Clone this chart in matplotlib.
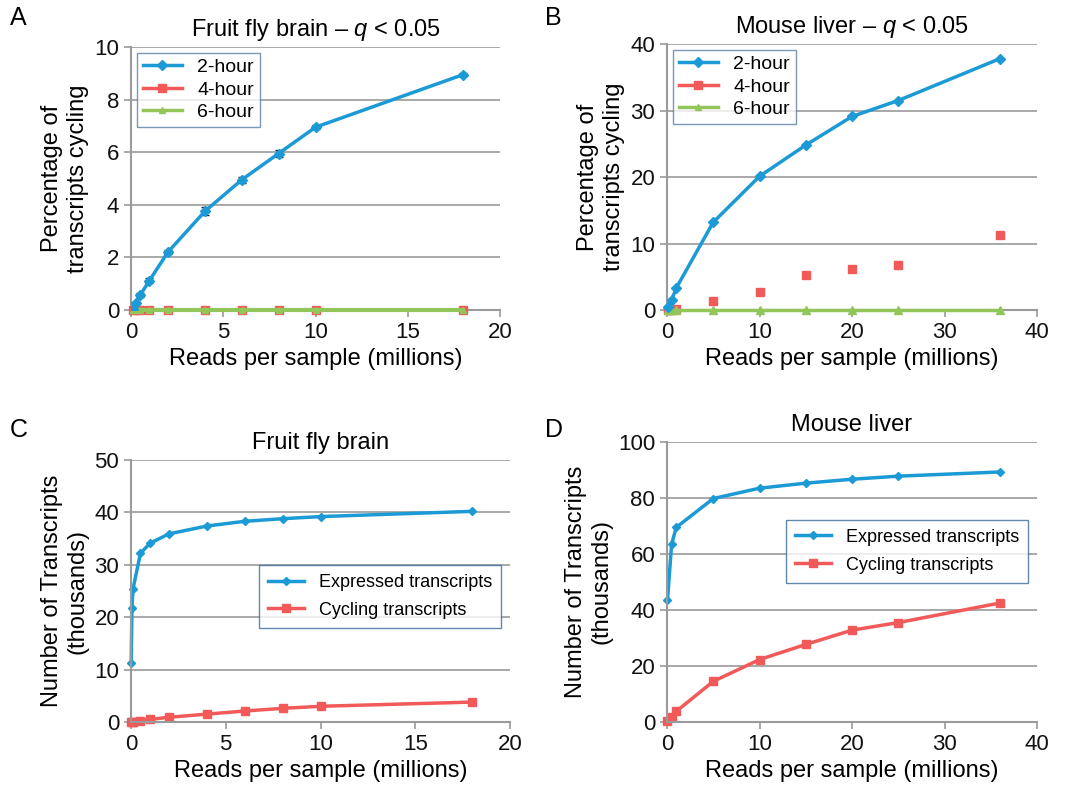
import matplotlib.pyplot as plt
from matplotlib.lines import Line2D

plt.rcParams['font.family'] = ['Liberation Sans', 'DejaVu Sans']
plt.rcParams['mathtext.fontset'] = 'custom'
plt.rcParams['mathtext.rm'] = 'Liberation Sans'
plt.rcParams['mathtext.it'] = 'Liberation Sans:italic'

BLUE = '#1b9ad6'
RED = '#f25a5a'
GREEN = '#93c65a'
GRID = '#9a9a9a'

# A: fruit fly brain, q < 0.05
fly_reads_a = [0.1, 0.25, 0.5, 1, 2, 4, 6, 8, 10, 18]
fly_2h = [0.05, 0.25, 0.57, 1.12, 2.2, 3.75, 4.95, 5.95, 6.95, 8.95]
fly_2h_err = [0.02, 0.04, 0.06, 0.1, 0.08, 0.15, 0.12, 0.15, 0.08, 0.05]
fly_4h = [0.0, 0.0, 0.0, 0.01, 0.01, 0.01, 0.01, 0.01, 0.01, 0.01]
fly_6h = [0.0, 0.0, 0.0, 0.0, 0.0, 0.0, 0.0, 0.0, 0.0, 0.0]

# B: mouse liver, q < 0.05
liver_reads_b = [0.1, 0.5, 1, 5, 10, 15, 20, 25, 36]
liver_2h = [0.4, 1.5, 3.3, 13.2, 20.1, 24.8, 29.1, 31.5, 37.8]
liver_4h = [0.0, 0.05, 0.1, 1.3, 2.7, 5.3, 6.2, 6.7, 11.3]
liver_6h = [0.0, 0.0, 0.0, 0.0, 0.0, 0.0, 0.0, 0.0, 0.0]

# C: fruit fly brain transcript counts (thousands)
fly_reads_c = [0.01, 0.05, 0.1, 0.5, 1, 2, 4, 6, 8, 10, 18]
fly_expressed = [11.2, 21.7, 25.3, 32.2, 34.1, 35.9, 37.4, 38.3, 38.8, 39.2, 40.2]
fly_cycling = [0.01, 0.03, 0.05, 0.25, 0.5, 0.9, 1.5, 2.1, 2.6, 3.0, 3.8]

# D: mouse liver transcript counts (thousands)
liver_reads_d = [0.05, 0.5, 1, 5, 10, 15, 20, 25, 36]
liver_expressed = [43.5, 63.5, 69.5, 79.8, 83.5, 85.3, 86.7, 87.8, 89.3]
liver_cycling = [0.3, 1.8, 3.8, 14.5, 22.3, 27.7, 32.8, 35.5, 42.5]


def style_axes(ax, xmax, ymax, ystep, xstep):
    ax.set_xlim(0, xmax)
    ax.set_ylim(0, ymax)
    ax.set_xticks(range(0, xmax + 1, xstep))
    ax.set_yticks(range(0, ymax + 1, ystep))
    ax.yaxis.grid(True, color=GRID, linewidth=1.2)
    ax.set_axisbelow(True)
    for s in ['top', 'right']:
        ax.spines[s].set_visible(False)
    for s in ['left', 'bottom']:
        ax.spines[s].set_color(GRID)
        ax.spines[s].set_linewidth(1.5)
    ax.tick_params(colors=GRID, labelcolor='#111111', labelsize=16, length=5, width=1.2)
    ax.set_xlabel('Reads per sample (millions)', fontsize=17)


fig = plt.figure(figsize=(10.65, 8.05), dpi=100)
W, H = 1065, 805


def add_ax(l, t, r, b):
    return fig.add_axes([l / W, 1 - b / H, (r - l) / W, (b - t) / H])


axA = add_ax(131, 47, 500, 310)
axB = add_ax(667, 44, 1037, 310)
axC = add_ax(131, 460, 510, 722)
axD = add_ax(667, 442, 1037, 722)

leg_handles = [Line2D([], [], color=BLUE, marker='D', ms=5, lw=2.5),
               Line2D([], [], color=RED, marker='s', ms=6, lw=2.5),
               Line2D([], [], color=GREEN, marker='^', ms=5, lw=2.5)]
leg_kw = dict(loc='upper left', fontsize=14, fancybox=False, edgecolor='#5a7fa8',
              borderaxespad=0.3, handlelength=2.0, labelspacing=0.25, borderpad=0.3)

# A
axA.plot(fly_reads_a, fly_4h, color=RED, marker='s', ms=6, lw=1.5, zorder=3, clip_on=False)
axA.plot(fly_reads_a, fly_6h, color=GREEN, marker='', lw=3, zorder=3.5, clip_on=False)
axA.plot(fly_reads_a, fly_6h, color=GREEN, marker='^', ms=4, lw=0, zorder=3.6, clip_on=False)
axA.errorbar(fly_reads_a, fly_2h, yerr=fly_2h_err, color=BLUE, marker='D', ms=5, lw=2.5,
             ecolor='#222222', elinewidth=1, capsize=3, zorder=4)
style_axes(axA, 20, 10, 2, 5)
axA.set_ylabel('Percentage of\ntranscripts cycling', fontsize=17)
axA.set_title('Fruit fly brain – $q$ < 0.05', fontsize=17, pad=8)
axA.legend(leg_handles, ['2-hour', '4-hour', '6-hour'], **leg_kw)

# B
axB.plot(liver_reads_b, liver_2h, color=BLUE, marker='D', ms=5, lw=2.5, zorder=4, clip_on=False)
axB.plot(liver_reads_b, liver_4h, color=RED, marker='s', ms=6, lw=0, zorder=3, clip_on=False)
axB.plot(liver_reads_b, liver_6h, color=GREEN, marker='^', ms=6, lw=2.5, zorder=3.5, clip_on=False)
style_axes(axB, 40, 40, 10, 10)
axB.set_ylabel('Percentage of\ntranscripts cycling', fontsize=17)
axB.set_title('Mouse liver – $q$ < 0.05', fontsize=17, pad=8)
axB.legend(leg_handles, ['2-hour', '4-hour', '6-hour'], **leg_kw)

# C
axC.plot(fly_reads_c, fly_expressed, color=BLUE, marker='D', ms=4, lw=2.5,
         label='Expressed transcripts', clip_on=False)
axC.plot(fly_reads_c, fly_cycling, color=RED, marker='s', ms=6, lw=2.5,
         label='Cycling transcripts', clip_on=False)
style_axes(axC, 20, 50, 10, 5)
axC.set_ylabel('Number of Transcripts\n(thousands)', fontsize=17)
axC.set_title('Fruit fly brain', fontsize=17, pad=8)
axC.legend(loc='center right', bbox_to_anchor=(1.0, 0.48), fontsize=13, fancybox=False,
           edgecolor='#3a6a9a', handlelength=2.0, labelspacing=0.6, borderpad=0.5)

# D
axD.plot(liver_reads_d, liver_expressed, color=BLUE, marker='D', ms=4, lw=2.5,
         label='Expressed transcripts', clip_on=False)
axD.plot(liver_reads_d, liver_cycling, color=RED, marker='s', ms=6, lw=2.5,
         label='Cycling transcripts', clip_on=False)
style_axes(axD, 40, 100, 20, 10)
axD.set_ylabel('Number of Transcripts\n(thousands)', fontsize=17)
axD.set_title('Mouse liver', fontsize=17, pad=8)
axD.legend(loc='center right', bbox_to_anchor=(1.0, 0.61), fontsize=13, fancybox=False,
           edgecolor='#3a6a9a', handlelength=2.0, labelspacing=0.6, borderpad=0.5)

for letter, x, y in [('A', 10, 18), ('B', 545, 18), ('C', 10, 430), ('D', 545, 430)]:
    fig.text(x / W, 1 - y / H, letter, fontsize=18, va='center', ha='left')

fig.savefig('out.png', dpi=100)
